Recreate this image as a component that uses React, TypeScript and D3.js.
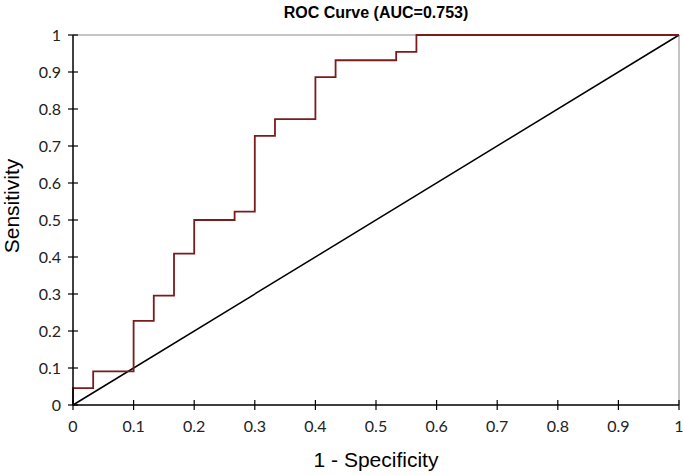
import React from "react";
import * as d3 from "d3";

const rocFpr = [0, 0, 0.0333, 0.0333, 0.1, 0.1, 0.1333, 0.1333, 0.1667, 0.1667, 0.2, 0.2, 0.2667, 0.2667, 0.3, 0.3, 0.3333, 0.3333, 0.4, 0.4, 0.4333, 0.4333, 0.5333, 0.5333, 0.5667, 0.5667, 1];
const rocTpr = [0, 0.0455, 0.0455, 0.0909, 0.0909, 0.2273, 0.2273, 0.2955, 0.2955, 0.4091, 0.4091, 0.5, 0.5, 0.5227, 0.5227, 0.7273, 0.7273, 0.7727, 0.7727, 0.8864, 0.8864, 0.9318, 0.9318, 0.9545, 0.9545, 1, 1];
const tickValues = [0, 0.1, 0.2, 0.3, 0.4, 0.5, 0.6, 0.7, 0.8, 0.9, 1];
const titleText = "ROC Curve (AUC=0.753)";
const xTitle = "1 - Specificity";
const yTitle = "Sensitivity";

const W = 685, H = 475;
const L = 73, R = 679, T = 35, B = 405;

export default function App() {
  const x = d3.scaleLinear().domain([0, 1]).range([L, R]);
  const y = d3.scaleLinear().domain([0, 1]).range([B, T]);
  const pts: [number, number][] = rocFpr.map((f, i) => [f, rocTpr[i]]);
  const line = d3.line<[number, number]>().x(d => x(d[0])).y(d => y(d[1]));
  const fmt = (v: number) => (v === 0 ? "0" : v === 1 ? "1" : d3.format(".1f")(v));
  const tickFont = "Lato, 'Open Sans', sans-serif";
  return (
    <svg width={W} height={H} style={{ position: "absolute", left: 0, top: 0 }}>
      <rect x={0} y={0} width={W} height={H} fill="#fff" />
      <line x1={x(0)} x2={x(1)} y1={y(1)} y2={y(1)} stroke="#c4c4c4" strokeWidth={2} />
      <line x1={x(1)} x2={x(1)} y1={y(0)} y2={y(1)} stroke="#c4c4c4" strokeWidth={2} />
      <line x1={x(0)} y1={y(0)} x2={x(1)} y2={y(1)} stroke="#000" strokeWidth={1.5} />
      <path d={line(pts) || ""} fill="none" stroke="#7a1c1c" strokeWidth={1.8} />
      <line x1={x(0)} x2={x(1)} y1={y(0)} y2={y(0)} stroke="#000" strokeWidth={1.5} />
      <line x1={x(0)} x2={x(0)} y1={y(0)} y2={y(1)} stroke="#000" strokeWidth={1.5} />
      {tickValues.map(v => (
        <g key={"x" + v}>
          <line x1={x(v)} x2={x(v)} y1={y(0) - 5} y2={y(0) + 5} stroke="#000" strokeWidth={1.2} />
          <text x={x(v)} y={432} textAnchor="middle" fontFamily={tickFont} fontSize={16} fill="#222">{fmt(v)}</text>
        </g>
      ))}
      {tickValues.map(v => (
        <g key={"y" + v}>
          <line x1={x(0) - 5} x2={x(0) + 5} y1={y(v)} y2={y(v)} stroke="#000" strokeWidth={1.2} />
          <text x={61} y={y(v) + 5.5} textAnchor="end" fontFamily={tickFont} fontSize={16} fill="#222">{fmt(v)}</text>
        </g>
      ))}
      <text x={(L + R) / 2} y={18} textAnchor="middle" fontFamily="'Liberation Sans', Arial, sans-serif" fontWeight="bold" fontSize={16} fill="#000">{titleText}</text>
      <text x={(L + R) / 2} y={467} textAnchor="middle" fontFamily="'Liberation Sans', Arial, sans-serif" fontSize={21} fill="#000">{xTitle}</text>
      <text transform={`translate(19,${206}) rotate(-90)`} textAnchor="middle" fontFamily="'Liberation Sans', Arial, sans-serif" fontSize={21} fill="#000">{yTitle}</text>
    </svg>
  );
}
